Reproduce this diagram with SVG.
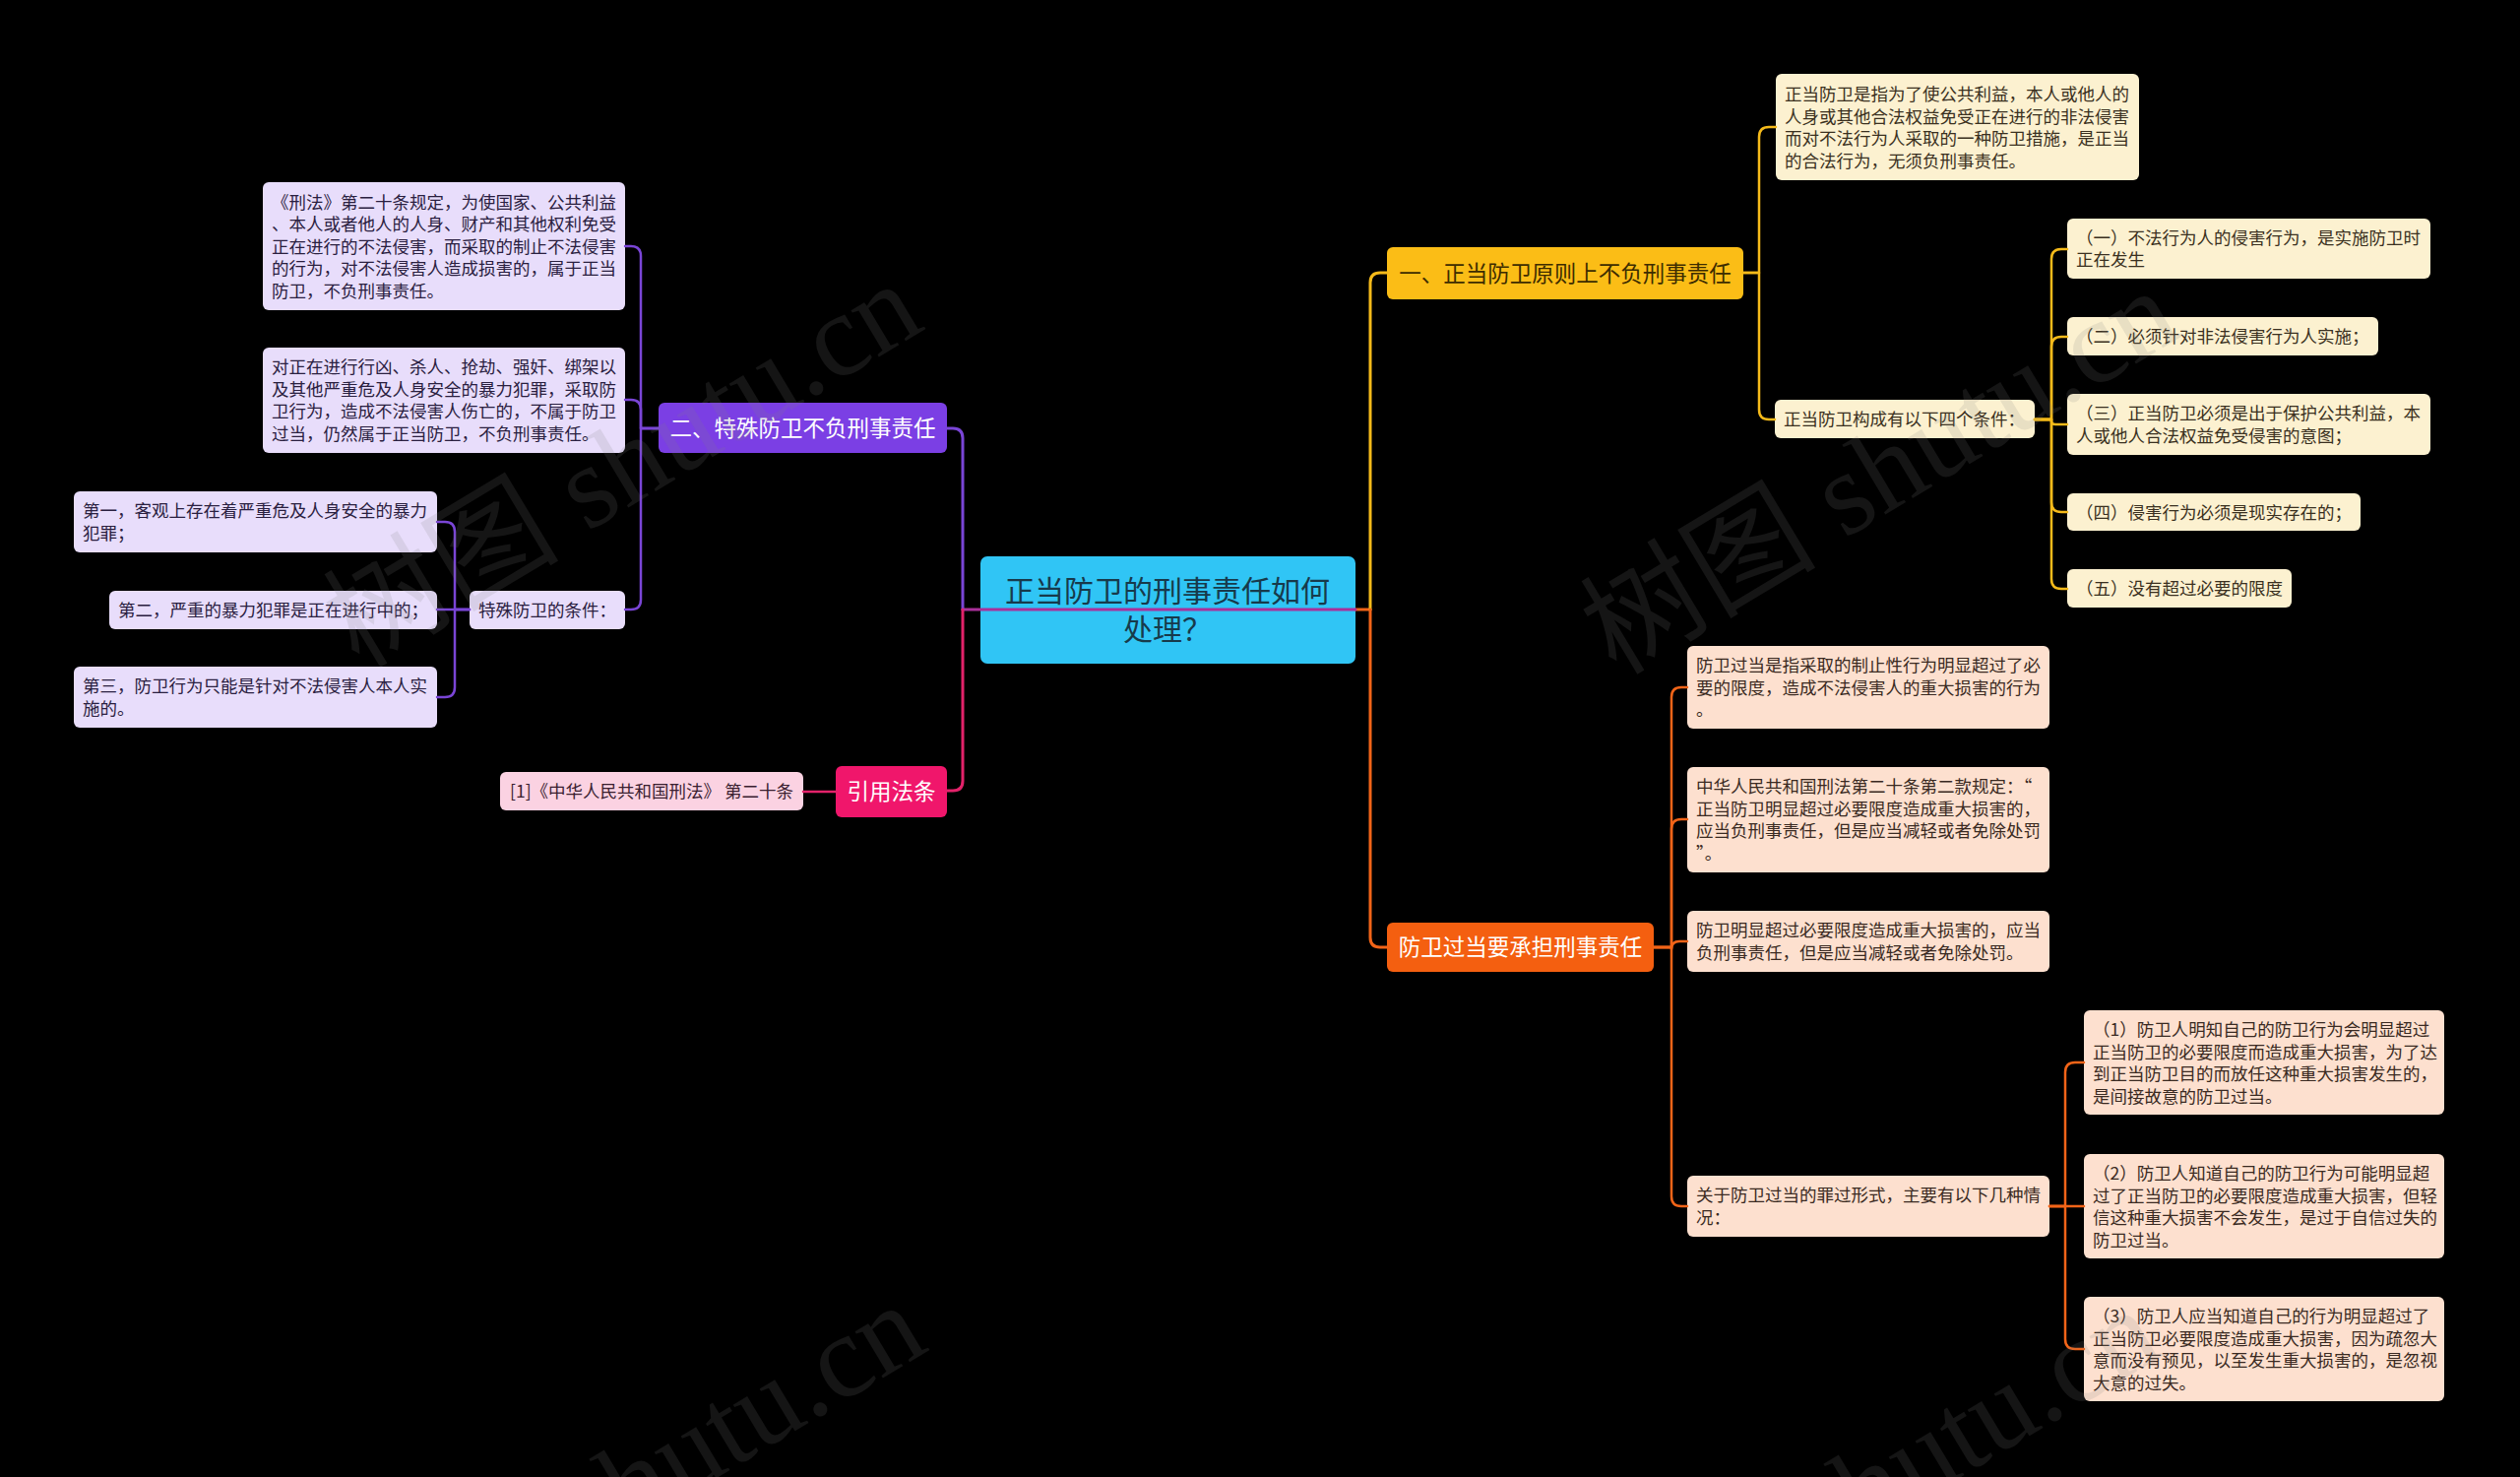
<svg xmlns="http://www.w3.org/2000/svg" width="2560" height="1500" viewBox="0 0 2560 1500">
<defs>
<style>
text{font-family:"Noto Sans CJK SC","Noto Sans",sans-serif;}
.leaf{font-size:17.5px;}
.main{font-size:22.5px;text-anchor:middle;}
.root{font-size:30px;text-anchor:middle;fill:#173a4b;}
.wy{fill:#fcf1d0;}
.wo{fill:#fde0cf;}
.wp{fill:#e8ddfb;}
.wr{fill:#fbd2e2;}
.ty{fill:#3a3020;}
.to{fill:#3a2a22;}
.tp{fill:#2a2040;}
.tr{fill:#3a2030;}
.c{fill:none;stroke-linecap:round;stroke-linejoin:round;}
.cy{stroke:#f5ba1a;}
.co{stroke:#f26418;}
.cp{stroke:#7a45d6;}
.cr{stroke:#e3226a;}
.w3{stroke-width:3;}
.w2{stroke-width:2.5;}
.wm{font-family:"Liberation Serif","Noto Sans CJK SC",serif;font-size:120px;fill:#808080;fill-opacity:0.16;text-anchor:end;}
</style>
</defs>
<rect x="0" y="0" width="2560" height="1500" fill="#000000"/>

<g id="nodes">
<g id="root">
<rect x="996" y="565" width="381" height="109" rx="7" fill="#30c5f5"/>
<text class="root" x="1186" y="611">正当防卫的刑事责任如何</text>
<text class="root" x="1186" y="650">处理？</text>
</g>

<g id="n1">
<rect x="1409" y="251" width="362" height="53" rx="6" fill="#fbbd16"/>
<text class="main" x="1590" y="285.5" fill="#3d2c00">一、正当防卫原则上不负刑事责任</text>
</g>
<g id="n1a">
<rect class="wy" x="1804" y="75" width="369" height="108" rx="6"/>
<text class="leaf ty" x="1813" y="102"><tspan x="1813">正当防卫是指为了使公共利益，本人或他人的</tspan><tspan x="1813" dy="22.5">人身或其他合法权益免受正在进行的非法侵害</tspan><tspan x="1813" dy="22.5">而对不法行为人采取的一种防卫措施，是正当</tspan><tspan x="1813" dy="22.5">的合法行为，无须负刑事责任。</tspan></text>
</g>
<g id="n1b">
<rect class="wy" x="1803" y="406" width="264" height="39" rx="6"/>
<text class="leaf ty" x="1812" y="432">正当防卫构成有以下四个条件：</text>
</g>
<g id="n1b1">
<rect class="wy" x="2100" y="222" width="369" height="61" rx="6"/>
<text class="leaf ty" x="2109" y="247.5"><tspan x="2109">（一）不法行为人的侵害行为，是实施防卫时</tspan><tspan x="2109" dy="22.5">正在发生</tspan></text>
</g>
<g id="n1b2">
<rect class="wy" x="2100" y="322" width="316" height="39" rx="6"/>
<text class="leaf ty" x="2109" y="348">（二）必须针对非法侵害行为人实施；</text>
</g>
<g id="n1b3">
<rect class="wy" x="2100" y="400" width="369" height="62" rx="6"/>
<text class="leaf ty" x="2109" y="426"><tspan x="2109">（三）正当防卫必须是出于保护公共利益，本</tspan><tspan x="2109" dy="22.5">人或他人合法权益免受侵害的意图；</tspan></text>
</g>
<g id="n1b4">
<rect class="wy" x="2100" y="501" width="298" height="38" rx="6"/>
<text class="leaf ty" x="2109" y="526.5">（四）侵害行为必须是现实存在的；</text>
</g>
<g id="n1b5">
<rect class="wy" x="2100" y="578" width="228" height="39" rx="6"/>
<text class="leaf ty" x="2109" y="604">（五）没有超过必要的限度</text>
</g>

<g id="n2">
<rect x="1409" y="937" width="271" height="50" rx="6" fill="#f45f10"/>
<text class="main" x="1544.5" y="970" fill="#ffffff">防卫过当要承担刑事责任</text>
</g>
<g id="n2a">
<rect class="wo" x="1714" y="656" width="368" height="84" rx="6"/>
<text class="leaf to" x="1723" y="682"><tspan x="1723">防卫过当是指采取的制止性行为明显超过了必</tspan><tspan x="1723" dy="22.5">要的限度，造成不法侵害人的重大损害的行为</tspan><tspan x="1723" dy="22.5">。</tspan></text>
</g>
<g id="n2b">
<rect class="wo" x="1714" y="779" width="368" height="107" rx="6"/>
<text class="leaf to" x="1723" y="805"><tspan x="1723">中华人民共和国刑法第二十条第二款规定：“</tspan><tspan x="1723" dy="22.5">正当防卫明显超过必要限度造成重大损害的，</tspan><tspan x="1723" dy="22.5">应当负刑事责任，但是应当减轻或者免除处罚</tspan><tspan x="1723" dy="22.5">”。</tspan></text>
</g>
<g id="n2c">
<rect class="wo" x="1714" y="925" width="368" height="62" rx="6"/>
<text class="leaf to" x="1723" y="951"><tspan x="1723">防卫明显超过必要限度造成重大损害的，应当</tspan><tspan x="1723" dy="22.5">负刑事责任，但是应当减轻或者免除处罚。</tspan></text>
</g>
<g id="n2d">
<rect class="wo" x="1714" y="1194" width="368" height="62" rx="6"/>
<text class="leaf to" x="1723" y="1220"><tspan x="1723">关于防卫过当的罪过形式，主要有以下几种情</tspan><tspan x="1723" dy="22.5">况：</tspan></text>
</g>
<g id="n2d1">
<rect class="wo" x="2117" y="1026" width="366" height="106" rx="6"/>
<text class="leaf to" x="2126" y="1052"><tspan x="2126">（1）防卫人明知自己的防卫行为会明显超过</tspan><tspan x="2126" dy="22.5">正当防卫的必要限度而造成重大损害，为了达</tspan><tspan x="2126" dy="22.5">到正当防卫目的而放任这种重大损害发生的，</tspan><tspan x="2126" dy="22.5">是间接故意的防卫过当。</tspan></text>
</g>
<g id="n2d2">
<rect class="wo" x="2117" y="1172" width="366" height="106" rx="6"/>
<text class="leaf to" x="2126" y="1198"><tspan x="2126">（2）防卫人知道自己的防卫行为可能明显超</tspan><tspan x="2126" dy="22.5">过了正当防卫的必要限度造成重大损害，但轻</tspan><tspan x="2126" dy="22.5">信这种重大损害不会发生，是过于自信过失的</tspan><tspan x="2126" dy="22.5">防卫过当。</tspan></text>
</g>
<g id="n2d3">
<rect class="wo" x="2117" y="1317" width="366" height="106" rx="6"/>
<text class="leaf to" x="2126" y="1343"><tspan x="2126">（3）防卫人应当知道自己的行为明显超过了</tspan><tspan x="2126" dy="22.5">正当防卫必要限度造成重大损害，因为疏忽大</tspan><tspan x="2126" dy="22.5">意而没有预见，以至发生重大损害的，是忽视</tspan><tspan x="2126" dy="22.5">大意的过失。</tspan></text>
</g>

<g id="n3">
<rect x="669" y="409" width="293" height="51" rx="6" fill="#7b3fe4"/>
<text class="main" x="815.5" y="443" fill="#ffffff">二、特殊防卫不负刑事责任</text>
</g>
<g id="n3a">
<rect class="wp" x="267" y="185" width="368" height="130" rx="6"/>
<text class="leaf tp" x="276" y="211.5"><tspan x="276">《刑法》第二十条规定，为使国家、公共利益</tspan><tspan x="276" dy="22.5">、本人或者他人的人身、财产和其他权利免受</tspan><tspan x="276" dy="22.5">正在进行的不法侵害，而采取的制止不法侵害</tspan><tspan x="276" dy="22.5">的行为，对不法侵害人造成损害的，属于正当</tspan><tspan x="276" dy="22.5">防卫，不负刑事责任。</tspan></text>
</g>
<g id="n3b">
<rect class="wp" x="267" y="353" width="368" height="107" rx="6"/>
<text class="leaf tp" x="276" y="379"><tspan x="276">对正在进行行凶、杀人、抢劫、强奸、绑架以</tspan><tspan x="276" dy="22.5">及其他严重危及人身安全的暴力犯罪，采取防</tspan><tspan x="276" dy="22.5">卫行为，造成不法侵害人伤亡的，不属于防卫</tspan><tspan x="276" dy="22.5">过当，仍然属于正当防卫，不负刑事责任。</tspan></text>
</g>
<g id="n3c">
<rect class="wp" x="477" y="600" width="158" height="39" rx="6"/>
<text class="leaf tp" x="486" y="626">特殊防卫的条件：</text>
</g>
<g id="n3c1">
<rect class="wp" x="75" y="499" width="369" height="62" rx="6"/>
<text class="leaf tp" x="84" y="525"><tspan x="84">第一，客观上存在着严重危及人身安全的暴力</tspan><tspan x="84" dy="22.5">犯罪；</tspan></text>
</g>
<g id="n3c2">
<rect class="wp" x="111" y="600" width="333" height="39" rx="6"/>
<text class="leaf tp" x="120" y="626">第二，严重的暴力犯罪是正在进行中的；</text>
</g>
<g id="n3c3">
<rect class="wp" x="75" y="677" width="369" height="62" rx="6"/>
<text class="leaf tp" x="84" y="703"><tspan x="84">第三，防卫行为只能是针对不法侵害人本人实</tspan><tspan x="84" dy="22.5">施的。</tspan></text>
</g>

<g id="n4">
<rect x="849" y="778" width="113" height="52" rx="6" fill="#f0166b"/>
<text class="main" x="905.5" y="812" fill="#ffffff">引用法条</text>
</g>
<g id="n4a">
<rect class="wr" x="508" y="784" width="308" height="39" rx="6"/>
<text class="leaf tr" x="518" y="810">[1]《中华人民共和国刑法》 第二十条</text>
</g>
</g>

<g id="connectors">
<path class="c co w3" d="M1377,619 H1392"/>
<path class="c cy w3" d="M1392,619 V287 Q1392,277 1402,277 H1409"/>
<path class="c co w3" d="M1392,619 V952 Q1392,962 1402,962 H1409"/>
<path class="c w3" stroke="#a9309a" d="M1377,619 H978"/>
<path class="c cp w3" d="M978,619 V445 Q978,435 968,435 H962"/>
<path class="c cr w3" d="M978,619 V793 Q978,803 968,803 H962"/>

<path class="c cy w2" d="M1771,277 H1787 V139 Q1787,129 1797,129 H1804"/>
<path class="c cy w2" d="M1771,277 H1787 V416 Q1787,426 1797,426 H1803"/>

<path class="c cy w2" d="M2067,426 H2084 V263 Q2084,253 2094,253 H2100"/>
<path class="c cy w2" d="M2067,426 H2084 V352 Q2084,342 2094,342 H2100"/>
<path class="c cy w2" d="M2067,426 H2084 V428 Q2084,431 2088,431 H2100"/>
<path class="c cy w2" d="M2067,426 H2084 V510 Q2084,520 2094,520 H2100"/>
<path class="c cy w2" d="M2067,426 H2084 V588 Q2084,598 2094,598 H2100"/>

<path class="c co w2" d="M1680,962 H1698 V708 Q1698,698 1708,698 H1714"/>
<path class="c co w2" d="M1680,962 H1698 V842 Q1698,832 1708,832 H1714"/>
<path class="c co w2" d="M1680,962 H1698 V964 Q1698,956 1706,956 H1714"/>
<path class="c co w2" d="M1680,962 H1698 V1215 Q1698,1225 1708,1225 H1714"/>

<path class="c co w2" d="M2082,1225 H2098 V1089 Q2098,1079 2108,1079 H2117"/>
<path class="c co w2" d="M2082,1225 H2117"/>
<path class="c co w2" d="M2082,1225 H2098 V1360 Q2098,1370 2108,1370 H2117"/>

<path class="c cp w2" d="M669,435 H651 V260 Q651,250 641,250 H635"/>
<path class="c cp w2" d="M669,435 H651 V416 Q651,406 641,406 H635"/>
<path class="c cp w2" d="M669,435 H651 V609 Q651,619 641,619 H635"/>

<path class="c cp w2" d="M477,619 H462 V540 Q462,530 452,530 H444"/>
<path class="c cp w2" d="M477,619 H444"/>
<path class="c cp w2" d="M477,619 H462 V698 Q462,708 452,708 H444"/>

<path class="c cr w2" d="M849,804 H816"/>
</g>

<g id="watermark">
<text class="wm" x="942" y="333" transform="rotate(-31 942 333)">树图 shutu.cn</text>
<text class="wm" x="2219" y="340" transform="rotate(-31 2219 340)">树图 shutu.cn</text>
<text class="wm" x="946" y="1370" transform="rotate(-31 946 1370)">树图 shutu.cn</text>
<text class="wm" x="2200" y="1375" transform="rotate(-31 2200 1375)">树图 shutu.cn</text>
</g>
</svg>
